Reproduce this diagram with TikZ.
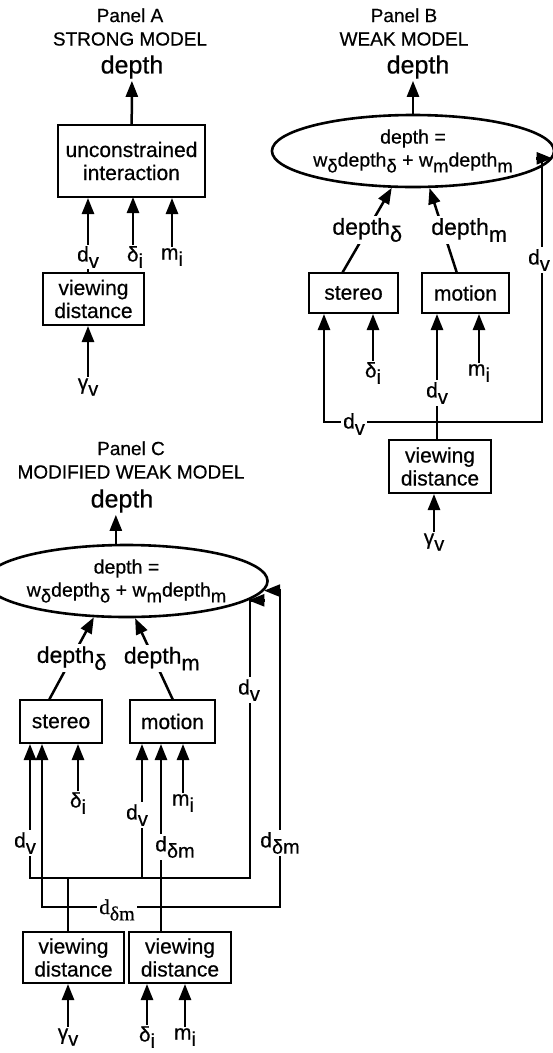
\documentclass[tikz,border=0pt]{standalone}
\usepackage{fontspec}
\setmainfont{Liberation Sans}[FakeBold=0.5]
\newfontfamily\serifl{Liberation Serif}[FakeBold=0.5]
\usepackage{tikz}
\usetikzlibrary{positioning,shapes.geometric,arrows.meta,calc}

\newcommand{\lowsub}[1]{\raisebox{-0.3em}{\scalebox{0.95}{#1}}}
\newcommand{\lblfont}{\fontsize{21}{23}\selectfont}
\newcommand{\ttlfont}{\fontsize{19}{23.5}\selectfont}
\newcommand{\depfont}{\fontsize{23}{25}\selectfont}
\newcommand{\topfont}{\fontsize{25}{27}\selectfont}
\newcommand{\eqfont}{\fontsize{19.5}{23}\selectfont}

\begin{document}
\begin{tikzpicture}[x=1pt, y=-1pt,
    title/.style={align=center, font=\ttlfont, inner sep=0pt},
    outlbl/.style={font=\topfont, inner sep=2pt},
    box/.style={rectangle, draw, line width=2pt, align=center, inner sep=0pt, font=\lblfont},
    wsum/.style={ellipse, draw, line width=2.6pt, minimum width=223pt, minimum height=72pt, inner sep=0pt, align=center, font=\eqfont},
    lbl/.style={font=\lblfont, inner sep=2pt},
    gap/.style={font=\lblfont, fill=white, inner sep=2pt},
    wire/.style={line width=2.5pt, line cap=rect},
    arrow/.style={-{Triangle[length=16pt,width=12pt]}, line width=2.5pt, line cap=rect}
]
\useasboundingbox (0,0) rectangle (553,1053);

% Panel A
\node[title] (titleA) at (130,27) {Panel A\\STRONG MODEL};
\node[outlbl] (depthA) at (132,67) {depth};
\node[box, minimum width=147pt, minimum height=72pt] (interact) at (131.5,161) {unconstrained\\interaction};
\node[lbl] (dvA) at (88,257) {d\lowsub{v}};
\node[lbl] (diA) at (135,257) {δ\lowsub{i}};
\node[lbl] (miA) at (172,257) {m\lowsub{i}};
\node[box, minimum width=101pt, minimum height=52pt] (vdA) at (93.5,299) {viewing\\distance};
\node[lbl] (gvA) at (88,387) {γ\lowsub{v}};

\draw[arrow] (interact) -- (depthA);
\draw[arrow] (dvA) -- (dvA |- interact.south);
\draw[arrow] (diA.north -| 133,0) -- (133,197);
\draw[arrow] (miA) -- (miA |- interact.south);
\draw[wire] (vdA.north -| dvA) -- (dvA);
\draw[arrow] (gvA) -- (gvA |- vdA.south);

% Panel B
\node[title] (titleB) at (404,27) {Panel B\\WEAK MODEL};
\node[outlbl] (depthB) at (418,67) {depth};
\node[wsum] (wsumB) at (413,151) {depth =\\w\lowsub{δ}depth\lowsub{δ} + w\lowsub{m}depth\lowsub{m}};
\node[box, minimum width=89pt, minimum height=40pt] (stereoB) at (353.5,293) {stereo};
\node[box, minimum width=87pt, minimum height=40pt] (motionB) at (465.5,293) {motion};
\node[lbl] (diB) at (373,373) {δ\lowsub{i}};
\node[lbl] (miB) at (479,373) {m\lowsub{i}};
\node[box, minimum width=102pt, minimum height=53pt] (vdB) at (440,466.5) {viewing\\distance};
\node[lbl] (gvB) at (434,542) {γ\lowsub{v}};

\draw[arrow] (wsumB.north) -- (wsumB.north |- depthB.south);
\draw[arrow] (stereoB.117) -- node[gap, font=\depfont] (dsB) {depth\lowsub{δ}} (wsumB.240);
\draw[arrow] (motionB.113) -- node[gap, font=\depfont, anchor=west, xshift=-15pt] (dmB) {depth\lowsub{m}} (wsumB.294);
\draw[arrow] (diB) -- (diB |- stereoB.south);
\draw[arrow] (miB) -- (miB |- motionB.south);

\coordinate (jB) at (437,422);
\coordinate (cB1) at (324,422);
\coordinate (cB2) at (542,422);
\draw[wire] (vdB.north -| jB) -- (jB);
\draw[arrow] (jB) -- (jB |- motionB.south);
\draw[arrow] (jB) -- (cB1) -- (cB1 |- stereoB.south);
\draw[arrow] (jB) -- (cB2) |- (wsumB.-3);
\node[gap] (dvB1) at (437,393) {d\lowsub{v}};
\node[gap] (dvB2) at (354,424) {d\lowsub{v}};
\node[gap] (dvB3) at (539,260) {d\lowsub{v}};
\draw[arrow] (gvB) -- (gvB |- vdB.south);

% Panel C
\node[title] (titleC) at (131,460) {Panel C\\MODIFIED WEAK MODEL};
\node[outlbl] (depthC) at (122,501) {depth};
\node[wsum] (wsumC) at (126.5,581) {depth =\\w\lowsub{δ}depth\lowsub{δ} + w\lowsub{m}depth\lowsub{m}};
\node[box, minimum width=82pt, minimum height=43pt] (stereoC) at (61,721.5) {stereo};
\node[box, minimum width=85pt, minimum height=43pt] (motionC) at (172.5,721.5) {motion};
\node[lbl] (diC) at (78,803) {δ\lowsub{i}};
\node[lbl] (miC) at (183,803) {m\lowsub{i}};
\node[box, minimum width=101pt, minimum height=51pt] (vdC1) at (73.5,957.5) {viewing\\distance};
\node[box, minimum width=102pt, minimum height=51pt] (vdC2) at (180,957.5) {viewing\\distance};
\node[lbl] (gvC) at (68,1037) {γ\lowsub{v}};
\node[lbl] (diC2) at (147,1037) {δ\lowsub{i}};
\node[lbl] (miC2) at (185,1037) {m\lowsub{i}};

\draw[arrow] (wsumC.106) -- (wsumC.106 |- depthC.south);
\draw[arrow] (stereoC.117) -- node[gap, font=\depfont] (dsC) {depth\lowsub{δ}} (wsumC.228);
\draw[arrow] (motionC.north) -- node[gap, font=\depfont, xshift=8pt] (dmC) {depth\lowsub{m}} (wsumC.283);
\draw[arrow] (diC) -- (diC |- stereoC.south);
\draw[arrow] (miC) -- (miC |- motionC.south);

% viewing distance -> d_v
\coordinate (jv) at (68,878);
\coordinate (v1) at (30,878);
\coordinate (v2) at (142,878);
\coordinate (v3) at (250,878);
\draw[wire] (vdC1.north -| jv) -- (jv);
\draw[wire] (v1) -- (v3);
\draw[arrow] (v1) -- (v1 |- stereoC.south);
\draw[arrow] (v2) -- (v2 |- motionC.south);
\draw[arrow] (v3) |- (wsumC.-9);

% viewing distance -> d_dm
\coordinate (jd) at (161,907);
\coordinate (d1) at (42,907);
\coordinate (d3) at (280,907);
\draw[arrow] (vdC2.north -| jd) -- (jd |- motionC.south);
\draw[wire] (d1) -- (d3);
\draw[arrow] (d1) -- (d1 |- stereoC.south);
\draw[arrow] (d3) |- (wsumC.-4);

\node[gap] (dvC1) at (25,843) {d\lowsub{v}};
\node[gap] (dvC2) at (137,815) {d\lowsub{v}};
\node[gap] (dvC3) at (249,690) {d\lowsub{v}};
\node[gap] (ddC1) at (175,847) {d\lowsub{δm}};
\node[gap] (ddC2) at (280,843) {d\lowsub{δm}};
\node[gap, font=\lblfont\serifl] (ddC3) at (117,910) {d\lowsub{δm}};

\draw[arrow] (gvC) -- (gvC |- vdC1.south);
\draw[arrow] (diC2) -- (diC2 |- vdC2.south);
\draw[arrow] (miC2) -- (miC2 |- vdC2.south);

\end{tikzpicture}
\end{document}
